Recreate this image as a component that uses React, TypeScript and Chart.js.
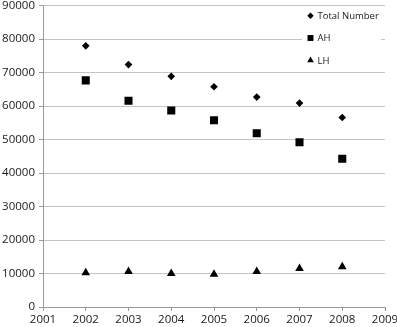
import React, { useEffect, useRef } from "react";
import { Chart, registerables } from "chart.js";
import { drawPoint } from "chart.js/helpers";

Chart.register(...registerables);

const years = [2002, 2003, 2004, 2005, 2006, 2007, 2008];
const totalNumber = [78000, 72400, 68900, 65800, 62700, 60900, 56600];
const ahValues = [67700, 61600, 58700, 55800, 51900, 49200, 44300];
const lhValues = [10200, 10600, 10000, 9800, 10600, 11500, 12000];
const seriesLabels = ["Total Number", "AH", "LH"];
const xTickRange = [2001, 2009];
const yTickRange = [0, 90000];

const FONT = "'Open Sans', 'Noto Sans', sans-serif";

const insideLegend = {
  id: "insideLegend",
  afterDraw(chart: any) {
    const { ctx, chartArea } = chart;
    ctx.save();
    const boxX = chartArea.right - 83;
    const boxY = chartArea.top + 2;
    ctx.fillStyle = "#ffffff";
    ctx.fillRect(boxX, boxY, 79, 64);
    ctx.font = `9.5px ${FONT}`;
    ctx.textBaseline = "middle";
    ctx.textAlign = "left";
    chart.data.datasets.forEach((ds: any, i: number) => {
      const y = chartArea.top + 10 + i * 22.3;
      ctx.fillStyle = "#000";
      ctx.strokeStyle = "#000";
      const r = ds.pointStyle === "rectRot" ? 3.2 : ds.pointStyle === "rect" ? 4.2 : 3.8;
      drawPoint(ctx, { pointStyle: ds.pointStyle, radius: r, rotation: 0, borderWidth: 0 }, boxX + 8.5, y);
      ctx.fillStyle = "#1a1a1a";
      ctx.fillText(ds.label, boxX + 15.5, y + 0.5);
    });
    ctx.restore();
  },
};

export default function App() {
  const canvasRef = useRef<HTMLCanvasElement | null>(null);

  useEffect(() => {
    document.body.style.margin = "0";
    const canvas = canvasRef.current!;
    const toPts = (vals: number[]) => vals.map((v, i) => ({ x: years[i], y: v }));
    const chart = new Chart(canvas, {
      type: "scatter",
      data: {
        datasets: [
          {
            label: seriesLabels[0],
            data: toPts(totalNumber),
            pointStyle: "rectRot",
            pointRadius: 3.8,
            pointBackgroundColor: "#000",
            pointBorderWidth: 0,
            showLine: false,
          },
          {
            label: seriesLabels[1],
            data: toPts(ahValues),
            pointStyle: "rect",
            pointRadius: 5.7,
            pointBackgroundColor: "#000",
            pointBorderWidth: 0,
            showLine: false,
          },
          {
            label: seriesLabels[2],
            data: toPts(lhValues),
            pointStyle: "triangle",
            pointRadius: 5,
            pointBackgroundColor: "#000",
            pointBorderWidth: 0,
            showLine: false,
          },
        ],
      },
      options: {
        responsive: false,
        animation: false,
        maintainAspectRatio: false,
        layout: { padding: { top: 5, left: 0, right: 12, bottom: 0 } },
        plugins: {
          legend: { display: false },
          tooltip: { enabled: false },
        },
        scales: {
          x: {
            type: "linear",
            min: xTickRange[0],
            max: xTickRange[1],
            ticks: {
              stepSize: 1,
              color: "#1a1a1a",
              font: { family: FONT, size: 11.5 },
              padding: 2,
              maxRotation: 0,
              callback: (v: any) => String(v),
            },
            grid: {
              drawOnChartArea: false,
              drawTicks: true,
              tickLength: 4,
              color: "#9a9a9a",
            },
            border: { display: true, color: "#9a9a9a" },
            afterFit: (s: any) => {
              s.height = 20;
              s.paddingRight = 0;
              s.paddingLeft = 0;
            },
          },
          y: {
            min: yTickRange[0],
            max: yTickRange[1],
            ticks: {
              stepSize: 10000,
              color: "#1a1a1a",
              font: { family: FONT, size: 11.5 },
              padding: 4,
              callback: (v: any) => String(v),
            },
            grid: {
              color: "#c4c4c4",
              tickLength: 4,
              tickColor: "#9a9a9a",
            },
            border: { display: true, color: "#9a9a9a" },
            afterFit: (s: any) => {
              s.width = 43;
              s.paddingTop = 0;
              s.paddingBottom = 0;
            },
          },
        },
      },
      plugins: [insideLegend],
    });
    return () => chart.destroy();
  }, []);

  return (
    <div style={{ position: "absolute", left: 0, top: 0, width: 397, height: 327, background: "#fff" }}>
      <canvas ref={canvasRef} width={397} height={327} style={{ display: "block" }} />
    </div>
  );
}
